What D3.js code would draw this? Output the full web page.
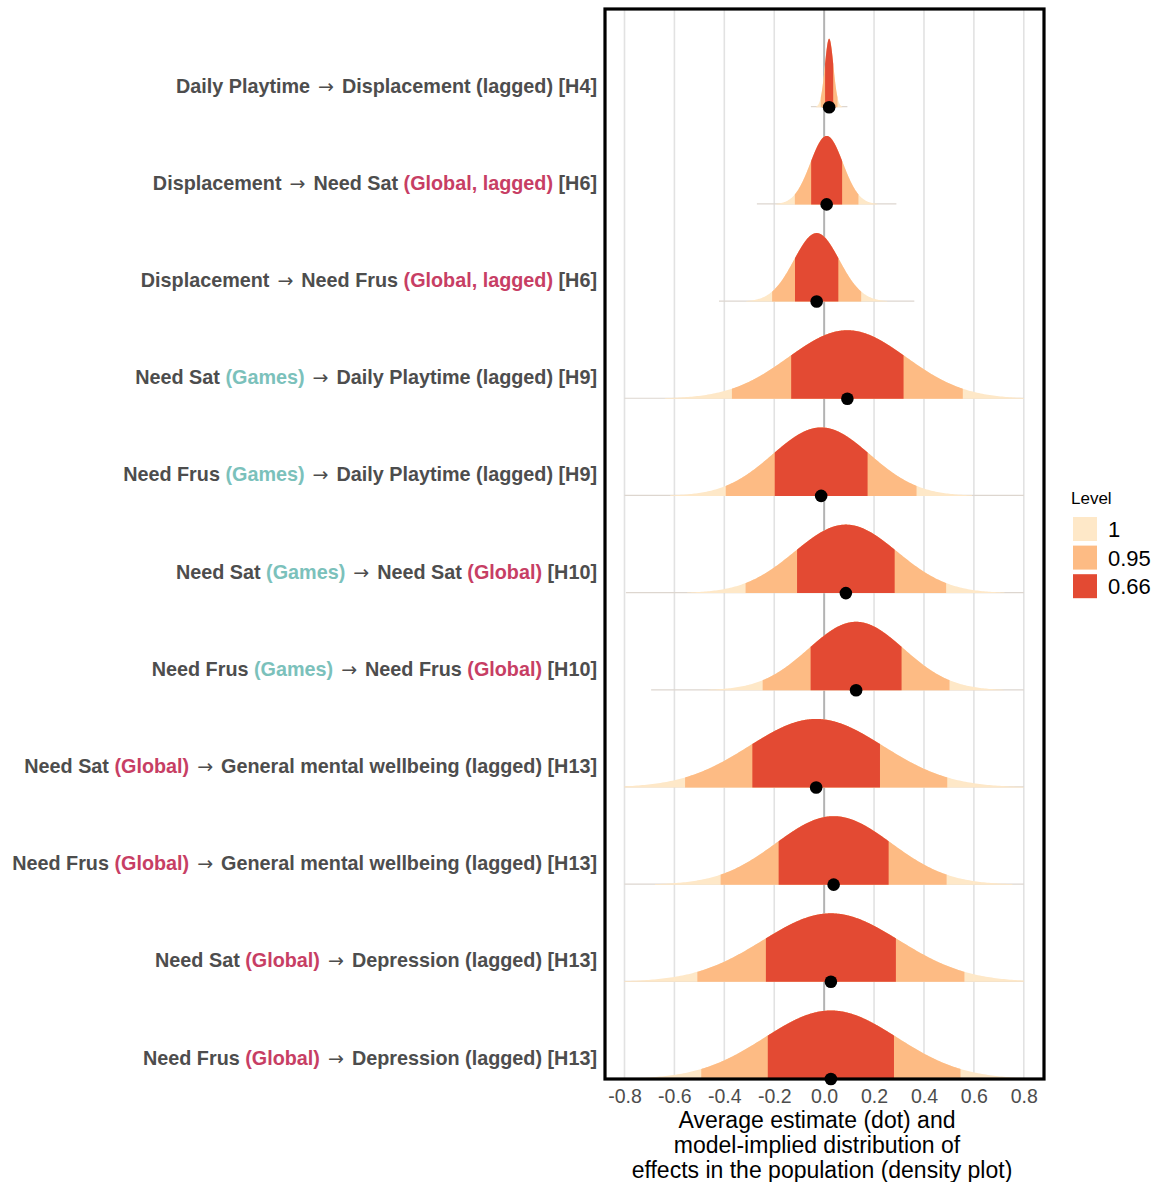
<!DOCTYPE html>
<html><head><meta charset="utf-8">
<script src="https://cdn.jsdelivr.net/npm/d3@7"></script>
<style>body{margin:0;background:#fff}</style>
</head><body><svg id="c" width="1161" height="1182"></svg>
<script>
// Row labels (top to bottom); each part: [text, style] n = normal, g = Global (crimson), m = Games (teal)
const labelParts = [
 [["Daily Playtime → Displacement (lagged) [H4]","n"]],
 [["Displacement → Need Sat ","n"],["(Global, lagged)","g"],[" [H6]","n"]],
 [["Displacement → Need Frus ","n"],["(Global, lagged)","g"],[" [H6]","n"]],
 [["Need Sat ","n"],["(Games)","m"],[" → Daily Playtime (lagged) [H9]","n"]],
 [["Need Frus ","n"],["(Games)","m"],[" → Daily Playtime (lagged) [H9]","n"]],
 [["Need Sat ","n"],["(Games)","m"],[" → Need Sat ","n"],["(Global)","g"],[" [H10]","n"]],
 [["Need Frus ","n"],["(Games)","m"],[" → Need Frus ","n"],["(Global)","g"],[" [H10]","n"]],
 [["Need Sat ","n"],["(Global)","g"],[" → General mental wellbeing (lagged) [H13]","n"]],
 [["Need Frus ","n"],["(Global)","g"],[" → General mental wellbeing (lagged) [H13]","n"]],
 [["Need Sat ","n"],["(Global)","g"],[" → Depression (lagged) [H13]","n"]],
 [["Need Frus ","n"],["(Global)","g"],[" → Depression (lagged) [H13]","n"]]
];
// Average estimate (dot / distribution centre) and SD of the population distribution
const estimates = [0.020, 0.010, -0.030, 0.093, -0.012, 0.087, 0.128, -0.032, 0.038, 0.027, 0.027];
const sds       = [0.017, 0.065, 0.091, 0.236, 0.195, 0.205, 0.191, 0.268, 0.231, 0.273, 0.265];
// Interval levels and their half-widths in SD units (1 = full range of draws)
const levels = ["1", "0.95", "0.66"];
const levelZ = [3.1, 1.96, 0.954];
const levelColors = ["#fee8c8", "#fdbb84", "#e34a33"];
const tailZ = 4.3;
const xTicks = [-0.8, -0.6, -0.4, -0.2, 0, 0.2, 0.4, 0.6, 0.8];
const xTickLabels = ["-0.8","-0.6","-0.4","-0.2","0.0","0.2","0.4","0.6","0.8"];
const xTitle = ["Average estimate (dot) and", "model-implied distribution of", "effects in the population (density plot)"];
const legendTitle = "Level";

const svg = d3.select("#c");
const FONT = "'Liberation Sans', Arial, Helvetica, sans-serif";
const partColor = {n: "#4d4d4d", g: "#c73e64", m: "#7bc1bb"};

const panel = {x0: 605, x1: 1044, y0: 9, y1: 1079};
const x = d3.scaleLinear().domain([-0.8, 0.8]).range([624.5, 1023.8]);
const y = d3.scaleLinear().domain([0, labelParts.length - 1]).range([107.2, 1079]);
const slabH = 68.5;

// grid
const grid = svg.append("g");
grid.selectAll("line.g").data(xTicks.filter(d => d !== 0)).join("line")
  .attr("x1", d => x(d)).attr("x2", d => x(d))
  .attr("y1", panel.y0).attr("y2", panel.y1)
  .attr("stroke", "#e2e2e2").attr("stroke-width", 1.6);
grid.append("line").attr("x1", x(0)).attr("x2", x(0))
  .attr("y1", panel.y0).attr("y2", panel.y1)
  .attr("stroke", "#b3b3b3").attr("stroke-width", 2);

// slabs
const area = d3.area().x(d => x(d[0])).y0(d => d[2]).y1(d => d[1]);
const clampX = v => Math.max(-0.8, Math.min(0.8, v));
estimates.forEach((m, i) => {
  const s = sds[i], base = y(i);
  const g = svg.append("g");
  const pts = (lo, hi) => {
    lo = clampX(lo); hi = clampX(hi);
    return d3.range(0, 201).map(k => {
      const v = lo + (hi - lo) * k / 200;
      const z = (v - m) / s;
      return [v, base - slabH * Math.exp(-0.5 * z * z), base];
    });
  };
  g.append("line")
    .attr("x1", x(clampX(m - tailZ * s))).attr("x2", x(clampX(m + tailZ * s)))
    .attr("y1", base - 0.5).attr("y2", base - 0.5)
    .attr("stroke", "#ddd6cf").attr("stroke-width", 1.2);
  levelZ.forEach((z, j) => {
    g.append("path").attr("d", area(pts(m - z * s, m + z * s)))
      .attr("fill", levelColors[j]);
  });
});

// dots
svg.append("g").selectAll("circle").data(estimates).join("circle")
  .attr("cx", d => x(d)).attr("cy", (d, i) => y(i)).attr("r", 6.3).attr("fill", "#000");

// panel border
svg.append("rect").attr("x", panel.x0).attr("y", panel.y0)
  .attr("width", panel.x1 - panel.x0).attr("height", panel.y1 - panel.y0)
  .attr("fill", "none").attr("stroke", "#000").attr("stroke-width", 3.2);

// y labels (arrow glyph drawn with DejaVu Sans for a fuller arrow)
labelParts.forEach((parts, i) => {
  const t = svg.append("text").attr("x", 597).attr("y", y(i) - 21.5)
    .attr("text-anchor", "end").attr("dominant-baseline", "central")
    .attr("font-family", FONT).attr("font-weight", "bold").attr("font-size", 19.8)
    .attr("xml:space", "preserve").style("white-space", "pre");
  let afterArrow = false;
  parts.forEach(p => {
    p[0].split(/(→)/).forEach(seg => {
      if (!seg) return;
      const ts = t.append("tspan").text(seg).attr("fill", partColor[p[1]]);
      if (seg === "→") {
        ts.attr("font-family", "'DejaVu Sans', sans-serif")
          .attr("font-weight", "normal").attr("font-size", 19).attr("dx", 2.5);
        afterArrow = true;
      } else if (afterArrow) {
        ts.attr("dx", 2.5);
        afterArrow = false;
      }
    });
  });
});

// x axis
const ax = svg.append("g").attr("transform", `translate(0,${panel.y1 + 1})`)
  .call(d3.axisBottom(x).tickValues(xTicks).tickSize(0).tickPadding(9)
    .tickFormat((d, i) => xTickLabels[i]));
ax.select(".domain").remove();
ax.selectAll("text").attr("font-family", FONT).attr("font-size", 19.5).attr("fill", "#4d4d4d");

const tt = svg.append("text").attr("text-anchor", "middle")
  .attr("font-family", FONT).attr("font-size", 23).attr("fill", "#000");
const titleX = [817, 817, 822];
xTitle.forEach((l, k) => tt.append("tspan").attr("x", titleX[k]).attr("y", 1128 + k * 25).text(l));

// legend
svg.append("text").attr("x", 1071).attr("y", 498).attr("dominant-baseline", "central")
  .attr("font-family", FONT).attr("font-size", 17).attr("fill", "#000").text(legendTitle);
const lg = svg.append("g").selectAll("g").data(levels).join("g")
  .attr("transform", (d, j) => `translate(1073,${517 + j * 28.6})`);
lg.append("rect").attr("width", 24).attr("height", 24).attr("fill", (d, j) => levelColors[j]);
lg.append("text").attr("x", 35).attr("y", 12.5).attr("dominant-baseline", "central")
  .attr("font-family", FONT).attr("font-size", 22).attr("fill", "#000").text(d => d);
</script></body></html>
